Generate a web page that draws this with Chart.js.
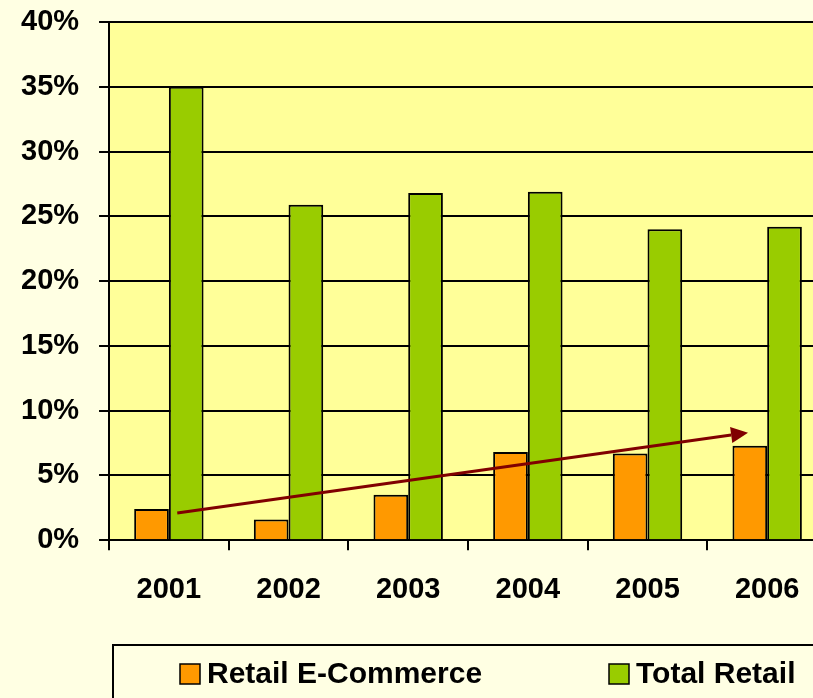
<!DOCTYPE html>
<html>
<head>
<meta charset="utf-8">
<script src="https://cdn.jsdelivr.net/npm/chart.js@4.4.0/dist/chart.umd.min.js"></script>
<style>
  html, body { margin: 0; padding: 0; background: #FFFFE3; overflow: hidden; }
  #wrap { width: 830px; height: 698px; position: relative; }
</style>
</head>
<body>
<div id="wrap"><canvas id="c"></canvas></div>
<script>
const years = ['2001', '2002', '2003', '2004', '2005', '2006'];
const eCommerce = [2.4, 1.6, 3.5, 6.8, 6.7, 7.3];
const totalRetail = [35.0, 25.9, 26.8, 26.9, 24.0, 24.2];
const seriesNames = ['Retail E-Commerce', 'Total Retail'];
const seriesColors = ['#FF9900', '#99CC00'];
const yMin = 0, yMax = 40, yStep = 5;
// trend arrow endpoints: [category index, value %]
const trendArrow = [[0.07, 2.1], [4.84, 8.3]];

const FONT = '"Liberation Sans", Arial, sans-serif';

const plotBg = {
  id: 'plotBg',
  beforeDraw(chart) {
    const { ctx, chartArea: a } = chart;
    ctx.save();
    ctx.fillStyle = '#FFFF99';
    ctx.fillRect(a.left, a.top, a.right - a.left + 20, a.bottom - a.top);
    ctx.restore();
  }
};

const arrowPlugin = {
  id: 'arrowPlugin',
  afterDatasetsDraw(chart) {
    const { ctx } = chart;
    const xs = chart.scales.x, ys = chart.scales.y;
    const x1 = xs.getPixelForValue(trendArrow[0][0]), y1 = ys.getPixelForValue(trendArrow[0][1]);
    const x2 = xs.getPixelForValue(trendArrow[1][0]), y2 = ys.getPixelForValue(trendArrow[1][1]);
    const ang = Math.atan2(y2 - y1, x2 - x1);
    const L = 17, W = 8;
    const bx = x2 - L * Math.cos(ang), by = y2 - L * Math.sin(ang);
    ctx.save();
    ctx.strokeStyle = '#800000';
    ctx.fillStyle = '#800000';
    ctx.lineWidth = 3;
    ctx.beginPath();
    ctx.moveTo(x1, y1);
    ctx.lineTo(bx, by);
    ctx.stroke();
    ctx.beginPath();
    ctx.moveTo(x2, y2);
    ctx.lineTo(bx + W * Math.sin(ang), by - W * Math.cos(ang));
    ctx.lineTo(bx - W * Math.sin(ang), by + W * Math.cos(ang));
    ctx.closePath();
    ctx.fill();
    ctx.restore();
  }
};

const legendBox = {
  id: 'legendBox',
  afterDraw(chart) {
    const { ctx } = chart;
    ctx.save();
    ctx.strokeStyle = '#000';
    ctx.lineWidth = 2;
    ctx.strokeRect(113, 645, 760, 100);
    const items = [[180, 207], [609, 636]];
    const cy = 674;
    ctx.font = 'bold 30px ' + FONT;
    ctx.textBaseline = 'middle';
    ctx.textAlign = 'left';
    items.forEach((it, i) => {
      ctx.fillStyle = seriesColors[i];
      ctx.fillRect(it[0], cy - 10, 20, 20);
      ctx.strokeStyle = '#000';
      ctx.lineWidth = 1.5;
      ctx.strokeRect(it[0], cy - 10, 20, 20);
      ctx.fillStyle = '#000';
      ctx.fillText(seriesNames[i], it[1], cy + 1);
    });
    ctx.restore();
  }
};

new Chart(document.getElementById('c'), {
  type: 'bar',
  data: {
    labels: years,
    datasets: [
      { label: seriesNames[0], data: eCommerce, backgroundColor: seriesColors[0], borderColor: '#000', borderWidth: 2 },
      { label: seriesNames[1], data: totalRetail, backgroundColor: seriesColors[1], borderColor: '#000', borderWidth: 2 }
    ]
  },
  options: {
    responsive: true,
    maintainAspectRatio: false,
    animation: false,
    layout: { padding: { left: 1, right: 3, top: 22, bottom: 69 } },
    datasets: { bar: { categoryPercentage: 0.58, barPercentage: 1.0 } },
    plugins: { legend: { display: false }, tooltip: { enabled: false } },
    scales: {
      x: {
        grid: { offset: true, drawOnChartArea: false, drawTicks: true, tickLength: 10, color: '#000', lineWidth: 2 },
        border: { display: true, color: '#000', width: 2 },
        ticks: { color: '#000', padding: 22, font: { family: FONT, size: 29, weight: 'bold' } }
      },
      y: {
        min: yMin, max: yMax,
        afterFit(scale) { scale.paddingTop = 0; scale.paddingBottom = 0; },
        grid: { color: '#000', lineWidth: 2, tickLength: 10, drawTicks: true },
        border: { display: true, color: '#000', width: 2 },
        ticks: {
          stepSize: yStep, color: '#000', padding: 20,
          font: { family: FONT, size: 29, weight: 'bold' },
          callback: v => v + '%'
        }
      }
    }
  },
  plugins: [plotBg, arrowPlugin, legendBox]
});
</script>
</body>
</html>
